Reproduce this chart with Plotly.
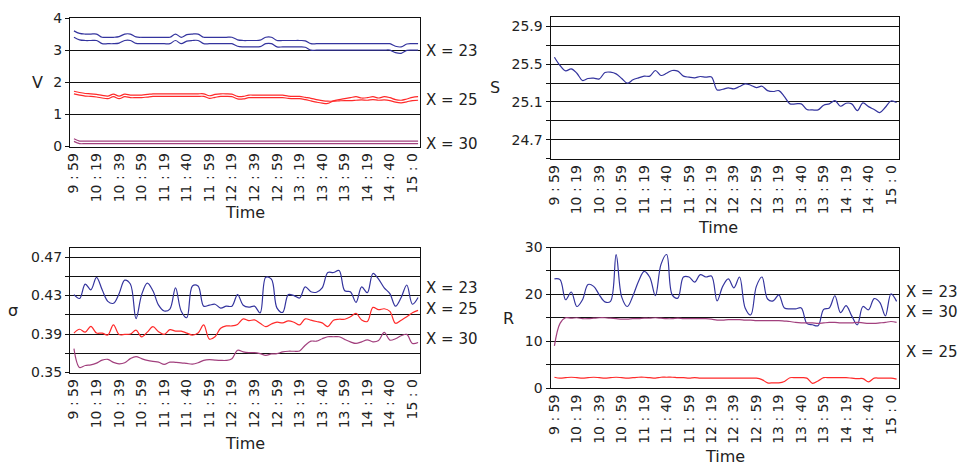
import plotly.graph_objects as go

# ---------------- data ----------------
sample_idx = list(range(0, 306, 5))            # sample number (one every 5 records)
tick_idx = list(range(0, 301, 20))
tick_labels = ["9 : 59", "10 : 19", "10 : 39", "10 : 59", "11 : 19", "11 : 40",
               "11 : 59", "12 : 19", "12 : 39", "12 : 59", "13 : 19", "13 : 40",
               "13 : 59", "14 : 19", "14 : 40", "15 : 0"]

V_x23_hi = [3.6, 3.52, 3.5, 3.5, 3.5, 3.4, 3.4, 3.4, 3.42, 3.5, 3.5, 3.41, 3.4, 3.4, 3.4, 3.4,
            3.4, 3.4, 3.5, 3.4, 3.48, 3.5, 3.5, 3.4, 3.4, 3.4, 3.4, 3.4, 3.4, 3.32, 3.3, 3.3,
            3.3, 3.31, 3.4, 3.4, 3.3, 3.3, 3.3, 3.3, 3.3, 3.29, 3.2, 3.2, 3.2, 3.2, 3.2, 3.2,
            3.2, 3.2, 3.2, 3.2, 3.2, 3.2, 3.2, 3.2, 3.2, 3.12, 3.1, 3.19, 3.2, 3.2]
V_x23_lo = [3.4, 3.32, 3.3, 3.3, 3.3, 3.2, 3.2, 3.2, 3.22, 3.3, 3.3, 3.21, 3.2, 3.2, 3.2, 3.2,
            3.2, 3.2, 3.3, 3.2, 3.28, 3.3, 3.3, 3.2, 3.2, 3.2, 3.2, 3.2, 3.2, 3.12, 3.1, 3.1,
            3.1, 3.11, 3.2, 3.2, 3.1, 3.1, 3.1, 3.1, 3.1, 3.09, 3.0, 3.0, 3.0, 3.0, 3.0, 3.0,
            3.0, 3.0, 3.0, 3.0, 3.0, 3.0, 3.0, 3.0, 3.0, 2.92, 2.9, 2.99, 3.0, 3.0]
V_x25_a = [1.72, 1.68, 1.65, 1.64, 1.62, 1.59, 1.57, 1.63, 1.57, 1.63, 1.6, 1.6, 1.6, 1.62,
           1.64, 1.64, 1.64, 1.64, 1.64, 1.64, 1.64, 1.64, 1.64, 1.64, 1.58, 1.62, 1.64, 1.64,
           1.63, 1.56, 1.56, 1.6, 1.6, 1.6, 1.6, 1.6, 1.6, 1.6, 1.57, 1.56, 1.56, 1.53, 1.5,
           1.46, 1.43, 1.41, 1.41, 1.42, 1.43, 1.43, 1.44, 1.45, 1.44, 1.46, 1.44, 1.45, 1.43,
           1.38, 1.36, 1.39, 1.43, 1.44]
V_x25_b = [1.64, 1.6, 1.57, 1.56, 1.54, 1.51, 1.49, 1.55, 1.49, 1.55, 1.52, 1.52, 1.52, 1.54,
           1.56, 1.56, 1.56, 1.56, 1.56, 1.56, 1.56, 1.56, 1.56, 1.56, 1.5, 1.53, 1.56, 1.56,
           1.55, 1.48, 1.48, 1.52, 1.52, 1.52, 1.52, 1.52, 1.52, 1.52, 1.5, 1.49, 1.49, 1.46,
           1.42, 1.38, 1.35, 1.34, 1.42, 1.46, 1.49, 1.52, 1.55, 1.51, 1.52, 1.55, 1.51, 1.55,
           1.52, 1.46, 1.44, 1.48, 1.53, 1.55]
V_x30_hi = [0.24] + [0.17] * 61
V_x30_lo = [0.16] + [0.09] * 61

S_vals = [25.574, 25.486, 25.429, 25.45, 25.404, 25.327, 25.348, 25.351, 25.344, 25.411,
          25.415, 25.397, 25.348, 25.298, 25.334, 25.355, 25.373, 25.373, 25.433, 25.38,
          25.404, 25.433, 25.426, 25.373, 25.362, 25.355, 25.369, 25.362, 25.365, 25.227,
          25.234, 25.249, 25.238, 25.263, 25.291, 25.277, 25.252, 25.266, 25.22, 25.21,
          25.22, 25.157, 25.079, 25.079, 25.079, 25.019, 25.015, 25.015, 25.065, 25.079,
          25.114, 25.054, 25.086, 25.079, 25.008, 25.089, 25.05, 25.019, 24.987, 25.043,
          25.11, 25.093]

sigma_x23 = [0.431, 0.427, 0.442, 0.436, 0.449, 0.436, 0.424, 0.422, 0.432, 0.446, 0.442,
             0.406, 0.431, 0.443, 0.435, 0.420, 0.414, 0.416, 0.438, 0.414, 0.407, 0.440,
             0.440, 0.419, 0.420, 0.421, 0.417, 0.419, 0.419, 0.431, 0.420,
             0.418, 0.419, 0.412, 0.449, 0.447, 0.417, 0.4125, 0.431, 0.430, 0.4275, 0.439,
             0.434, 0.4335, 0.438, 0.454, 0.454, 0.456, 0.435, 0.434, 0.423, 0.439, 0.433,
             0.453, 0.447, 0.438, 0.432, 0.419, 0.428, 0.441, 0.421, 0.428]
sigma_x25 = [0.391, 0.395, 0.392, 0.398, 0.391, 0.391, 0.389, 0.3995, 0.3896, 0.3896, 0.390,
             0.394, 0.387, 0.392, 0.3977, 0.3924, 0.3896, 0.3945, 0.393, 0.393, 0.391, 0.3889,
             0.391, 0.3995, 0.3847, 0.3872, 0.396, 0.3984, 0.3984, 0.400, 0.4058,
             0.404, 0.4047, 0.4012, 0.3977, 0.4005, 0.4023, 0.4016, 0.4037, 0.4023, 0.3995,
             0.4058, 0.4044, 0.403, 0.4016, 0.3977, 0.4044, 0.4054, 0.4054, 0.4079, 0.4114,
             0.4047, 0.403, 0.4177, 0.4153, 0.4163, 0.4135, 0.4012, 0.4044, 0.4079, 0.4121,
             0.4146]
sigma_x30 = [0.3749, 0.3552, 0.3573, 0.358, 0.3598, 0.3629, 0.3637, 0.3605, 0.359, 0.3601,
             0.3644, 0.3665, 0.3644, 0.3626, 0.3615, 0.3608, 0.3584, 0.3608, 0.3605, 0.3601,
             0.3594, 0.3587, 0.3601, 0.3626, 0.3633, 0.3629, 0.3626, 0.3626, 0.3644, 0.3731,
             0.3714,
             0.3707, 0.3707, 0.3696, 0.3679, 0.3693, 0.3696, 0.3714, 0.3721, 0.3721, 0.3724,
             0.3784, 0.3826, 0.3826, 0.3851, 0.3872, 0.3872, 0.3872, 0.3844, 0.3819, 0.3802,
             0.3819, 0.384, 0.3819, 0.3833, 0.3917, 0.3837, 0.3851, 0.3882, 0.3896, 0.3802,
             0.3812]

R_x23 = [23.3, 23.15, 18.85, 20.5, 17.4, 18.85, 22.1, 21.7, 19.9, 18.4, 18.5, 28.5, 19.4,
         17.4, 19.7, 22.8, 24.9, 23.65, 19.7, 26.4, 28.5, 19.9, 19.2, 23.7, 23.7, 22.6, 24.2,
         23.7, 23.9, 18.6, 21.7,
         23.3, 21.4, 23.7, 17.1, 15.6, 21.7, 23.7, 19.0, 18.6, 19.9, 17.1, 16.9, 16.9, 17.1,
         13.8, 13.5, 13.3, 16.8, 17.1, 19.7, 16.1, 17.6, 15.4, 13.5, 17.4, 16.7, 19.1, 18.3,
         15.4, 20.1, 18.5]
R_x30 = [9.0, 13.8, 15.0, 14.9, 15.0, 14.8, 14.8, 14.9, 15.0, 15.0, 14.9, 14.8, 14.7, 14.7,
         14.8, 14.8, 14.9, 14.9, 15.0, 14.9, 14.8, 14.8, 14.9, 14.8, 14.8, 14.8, 14.8, 14.8,
         14.7, 14.5, 14.5,
         14.6, 14.6, 14.6, 14.5, 14.5, 14.4, 14.4, 14.4, 14.4, 14.4, 14.3, 14.2, 14.0, 13.9,
         13.9, 13.9, 13.8, 13.9, 14.0, 14.0, 13.9, 13.9, 13.9, 14.0, 13.9, 13.8, 13.8, 13.9,
         14.0, 14.2, 14.0]
R_x25 = [2.3, 2.1, 2.2, 2.3, 2.2, 2.1, 2.2, 2.3, 2.2, 2.1, 2.2, 2.3, 2.2, 2.1, 2.2, 2.3,
         2.3, 2.2, 2.1, 2.3, 2.3, 2.3, 2.2, 2.2, 2.1, 2.2, 2.1, 2.1, 2.1, 2.1, 2.1,
         2.1, 2.1, 2.1, 2.1, 2.1, 2.1, 1.8, 1.1, 1.1, 1.1, 1.4, 2.2, 2.2, 2.2, 2.1, 1.0,
         1.5, 2.2, 2.2, 2.2, 2.2, 2.2, 2.1, 2.0, 2.0, 1.3, 2.1, 2.1, 2.1, 2.1, 1.9]

# ---------------- styling ----------------
W, H = 962, 468
BLUE = "#34349e"
RED = "#ff2a2a"
PURPLE = "#a2407e"
FONT = "DejaVu Sans"
INK = "#222222"


def dom_x(a, b):
    return [a / W, b / W]


def dom_y(top, bottom):
    return [1 - bottom / H, 1 - top / H]


fig = go.Figure()


def add(series, ax, color):
    xa = "x" if ax == 1 else "x%d" % ax
    ya = "y" if ax == 1 else "y%d" % ax
    fig.add_trace(go.Scatter(x=sample_idx, y=series, xaxis=xa, yaxis=ya, mode="lines",
                             line=dict(color=color, width=1.2, shape="spline"),
                             showlegend=False, hoverinfo="skip"))


add(V_x23_hi, 1, BLUE)
add(V_x23_lo, 1, BLUE)
add(V_x25_a, 1, RED)
add(V_x25_b, 1, RED)
add(V_x30_hi, 1, PURPLE)
add(V_x30_lo, 1, PURPLE)
add(S_vals, 2, BLUE)
add(sigma_x23, 3, BLUE)
add(sigma_x25, 3, RED)
add(sigma_x30, 3, PURPLE)
add(R_x23, 4, BLUE)
add(R_x30, 4, PURPLE)
add(R_x25, 4, RED)

xcommon = dict(tickmode="array", tickvals=tick_idx, ticktext=tick_labels, tickangle=-90,
               ticks="", range=[-3.5, 306.7], showgrid=False, zeroline=False,
               showline=True, linecolor="#111", linewidth=1, mirror=True, automargin=False,
               tickfont=dict(family=FONT, size=14, color=INK))
ycommon = dict(ticks="outside", ticklen=4, tickcolor="#111", showgrid=True,
               gridcolor="#111", gridwidth=1, zeroline=False, showline=True,
               linecolor="#111", linewidth=1, mirror=True, automargin=False,
               tickfont=dict(family=FONT, size=14, color=INK))

s_ticks = [24.5, 24.7, 24.9, 25.1, 25.3, 25.5, 25.7, 25.9]
s_text = ["", "24.7", "", "25.1", "", "25.5", "", "25.9"]
sig_ticks = [0.35, 0.37, 0.39, 0.41, 0.43, 0.45, 0.47]
sig_text = ["0.35", "", "0.39", "", "0.43", "", "0.47"]
r_ticks = [0, 5, 10, 15, 20, 25, 30]
r_text = ["0", "", "10", "", "20", "", "30"]
v_ticks = [0, 1, 2, 3, 4]

fig.update_layout(
    width=W, height=H, margin=dict(l=0, r=0, t=0, b=0, pad=0, autoexpand=False),
    autosize=False, showlegend=False,
    paper_bgcolor="white", plot_bgcolor="white",
    xaxis=dict(xcommon, domain=dom_x(70, 420), anchor="y"),
    yaxis=dict(ycommon, domain=dom_y(18, 146.5), range=[0, 4], tickvals=v_ticks,
               ticktext=[str(v) for v in v_ticks], anchor="x"),
    xaxis2=dict(xcommon, domain=dom_x(550.5, 898.5), anchor="y2"),
    yaxis2=dict(ycommon, domain=dom_y(17, 158.5), range=[24.5, 26.0], tickvals=s_ticks,
                ticktext=s_text, anchor="x2"),
    xaxis3=dict(xcommon, domain=dom_x(70, 420), anchor="y3"),
    yaxis3=dict(ycommon, domain=dom_y(247.5, 372.5), range=[0.35, 0.48], tickvals=sig_ticks,
                ticktext=sig_text, anchor="x3"),
    xaxis4=dict(xcommon, domain=dom_x(550.5, 898.5), anchor="y4"),
    yaxis4=dict(ycommon, domain=dom_y(247.5, 388), range=[0, 30], tickvals=r_ticks,
                ticktext=r_text, anchor="x4"),
)


def note(text, x, y, size=15, xanchor="left"):
    fig.add_annotation(text=text, x=x / W, y=1 - y / H, xref="paper", yref="paper",
                       xanchor=xanchor, yanchor="middle", showarrow=False,
                       font=dict(family=FONT, size=size, color=INK))


# axis titles
note("V", 37, 82, 16, "center")
note("S", 495, 87, 16, "center")
note("σ", 13, 310, 16, "center")
note("R", 508, 318, 16, "center")
note("Time", 245, 213, 16, "center")
note("Time", 718, 227, 16, "center")
note("Time", 245, 443, 16, "center")
note("Time", 725, 456, 16, "center")

# series labels
note("X = 23", 424, 51)
note("X = 25", 424, 100)
note("X = 30", 424, 144)
note("X = 23", 424, 288)
note("X = 25", 424, 309)
note("X = 30", 424, 339)
note("X = 23", 904, 292)
note("X = 30", 904, 312)
note("X = 25", 904, 352)

page_fix = ("document.documentElement.style.margin='0';document.body.style.margin='0';"
            "document.body.style.padding='0';document.body.style.overflow='hidden';")
fig.write_html("out.html", post_script=page_fix, config={"displayModeBar": False})
